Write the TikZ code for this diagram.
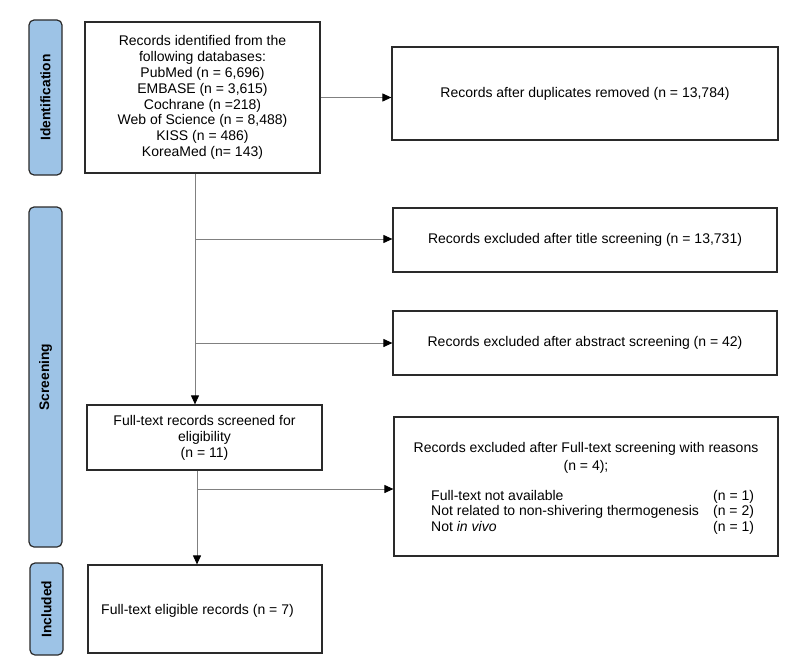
\documentclass[tikz,border=0pt]{standalone}
\usepackage{fontspec}
\setmainfont{Liberation Sans}
\usetikzlibrary{arrows.meta}
\definecolor{tabblue}{HTML}{9DC3E6}
\definecolor{linegray}{HTML}{808080}
\definecolor{boxline}{HTML}{2A2A2A}
\begin{document}
\begin{tikzpicture}[x=1pt,y=-1pt,
  box/.style={draw=boxline,line width=1.2pt,inner sep=0pt,align=center,font=\fontsize{14}{15.9}\selectfont},
  tab/.style={draw=boxline,line width=1.2pt,fill=tabblue,rounded corners=5pt,rotate=90,inner sep=0pt,font=\bfseries\fontsize{13.8}{16}\selectfont},
  conn/.style={draw=linegray,line width=1pt,-{Triangle[length=9pt,width=8pt,color=black]}},
  txt/.style={inner sep=0pt,font=\fontsize{14}{15.9}\selectfont}]
\useasboundingbox (0,0) rectangle (789,666);

% phase tabs
\node[tab,minimum width=155pt,minimum height=33pt] (tabid) at (45.5,97.5) {Identification};
\node[tab,minimum width=340pt,minimum height=33pt] (tabsc) at (45.5,377) {Screening};
\node[tab,minimum width=92pt,minimum height=33pt] (tabin) at (46.5,609) {Included};

% boxes
\node[box,minimum width=235pt,minimum height=151pt] (box1) at (202.5,97.5)
  {Records identified from the\\following databases:\\PubMed (n = 6,696)\\EMBASE (n = 3,615)\\Cochrane (n =218)\\Web of Science (n = 8,488)\\KISS (n = 486)\\KoreaMed (n= 143)};
\node[box,minimum width=386pt,minimum height=93pt] (dup) at (585,93.5)
  {Records after duplicates removed (n = 13,784)};
\node[box,minimum width=384pt,minimum height=64pt] (title) at (585,240)
  {Records excluded after title screening (n = 13,731)};
\node[box,minimum width=384pt,minimum height=64pt] (abs) at (585,343)
  {Records excluded after abstract screening (n = 42)};
\node[box,minimum width=235pt,minimum height=65pt] (full) at (204.5,437.5)
  {Full-text records screened for\\eligibility\\(n = 11)};
\node[box,minimum width=384pt,minimum height=139pt] (excl) at (586,486.5) {};
\node[txt,align=center,font=\fontsize{14}{17.4}\selectfont] (exclhead) at (586,458)
  {Records excluded after Full-text screening with reasons\\(n = 4);};
\node[txt,align=left,anchor=west] (excllist) at (431,512.3)
  {\makebox[282pt][l]{Full-text not available}(n = 1)\\
   \makebox[282pt][l]{Not related to non-shivering thermogenesis}(n = 2)\\
   \makebox[282pt][l]{Not \textit{in vivo}}(n = 1)};
\node[box,minimum width=234pt,minimum height=88pt] (incl) at (205,609) {};
\node[txt,anchor=west] (incltxt) at (101,611) {Full-text eligible records (n = 7)};

% connectors
\coordinate (c1) at (195,239);
\coordinate (c2) at (195,343);
\coordinate (c3) at (197,489);
\draw[conn] (box1.east) -- (box1.east -| dup.west);
\draw[conn] (box1.south -| c1) -- (full.north -| c1);
\draw[conn] (c1) -- (c1 -| title.west);
\draw[conn] (c2) -- (c2 -| abs.west);
\draw[conn] (full.south -| c3) -- (incl.north -| c3);
\draw[conn] (c3) -- (c3 -| excl.west);
\end{tikzpicture}
\end{document}
